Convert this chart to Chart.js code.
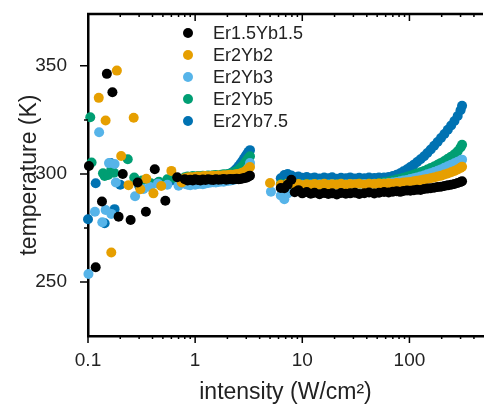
<!DOCTYPE html>
<html>
<head>
<meta charset="utf-8">
<script src="https://cdn.jsdelivr.net/npm/chart.js@4"></script>
<style>
  body { margin: 0; background: #fff; }
  #wrap { position: relative; width: 488px; height: 412px; }
  #legend { position: absolute; left: 183px; top: 22px; font: 18px "Liberation Sans", Arial, sans-serif; color: #222; }
  .row { display: flex; align-items: center; height: 22px; }
  .dot { width: 10px; height: 10px; border-radius: 50%; margin-right: 20px; }
</style>
</head>
<body>
<div id="wrap">
  <canvas id="grafico" width="488" height="412"></canvas>
  <div id="legend"></div>
</div>
<script>
// series names and colours
const nomes = ['Er1.5Yb1.5', 'Er2Yb2', 'Er2Yb3', 'Er2Yb5', 'Er2Yb7.5'];
const cores = ['#000000', '#E69F00', '#56B4E9', '#009E73', '#0072B2'];

// axis ticks
const xTickLabels = [0.1, 1, 10, 100];
const yTickLabels = [250, 300, 350];
const yMinorTicks = [275, 325];

// intensities (W/cm2) of the two dense sweeps
const intensidade1 = [0.8, 0.85, 0.9, 0.95, 1.0, 1.06, 1.12, 1.18, 1.25, 1.32, 1.4, 1.48, 1.56, 1.65, 1.75,
  1.85, 1.95, 2.05, 2.15, 2.25, 2.35, 2.45, 2.55, 2.65, 2.75, 2.85, 2.95, 3.05, 3.15, 3.25];
const intensidade2 = [6.3, 6.8, 7.3, 7.9, 8.5, 9.2, 10, 11, 12, 13, 14.5, 16, 17.5, 19, 21, 23, 25.5, 28, 31,
  34, 38, 42, 47, 52, 58, 64, 70, 76, 82, 88, 95, 102, 110, 118, 127, 137, 147, 158, 170, 183, 197, 212,
  228, 245, 263, 282, 300, 310];

// Er1.5Yb1.5
const er15Dispersos = [0.102, 0.118, 0.135, 0.150, 0.169, 0.193, 0.211, 0.25, 0.291, 0.347, 0.42, 0.527, 0.68];
const er15DispersosT = [303.7, 256.8, 287.2, 346.3, 337.8, 280.2, 300, 278.7, 296, 282.5, 302.2, 287.6, 298.5];
const er15Faixa1 = [297.5, 297, 297.3, 297, 297.5, 297.2, 297, 297.4, 297.2, 297.5, 297.3, 297.2, 297.5, 297.3,
  297.4, 297.6, 297.3, 297.5, 297.6, 297.4, 297.6, 297.8, 297.5, 297.7, 297.9, 298, 298.2, 298.4, 298.8, 299.2];
const er15Faixa2 = [293.5, 293.4, 295, 297.3, 291.5, 292.5, 291, 291.6, 290.8, 291.3, 290.6, 291.2, 290.7, 291,
  290.5, 291.2, 290.8, 291, 291.3, 290.7, 291.1, 291.4, 290.9, 291.3, 291.6, 291.4, 291.8, 292, 291.7, 292.1,
  292.3, 292.2, 292.5, 292.7, 292.6, 293, 293.2, 293.4, 293.6, 293.9, 294.1, 294.4, 294.7, 295, 295.3, 295.8,
  296.3, 296.6];

// Er2Yb2
const er2Dispersos = [0.126, 0.146, 0.165, 0.186, 0.204, 0.239, 0.267, 0.308, 0.35, 0.408, 0.483, 0.6, 0.75, 5.0];
const er2DispersosT = [335.2, 324.7, 263.6, 347.8, 308.3, 294.8, 326, 292.9, 297.8, 291, 294.4, 301.4, 296, 295.8];
const er2Faixa1 = [298, 298.3, 298.5, 298.3, 298.6, 298.8, 298.5, 298.9, 299, 298.8, 299, 299.2, 299, 299.3,
  299.2, 299.4, 299.3, 299.5, 299.6, 299.4, 299.7, 299.9, 300, 300.2, 300.5, 300.8, 301.2, 301.8, 302.5, 303.2];
const er2Faixa2 = [295, 294, 295.5, 296, 295, 295.3, 294.8, 295.2, 294.9, 295.3, 295, 295.4, 294.9, 295.2,
  295.1, 295.4, 295, 295.3, 295.2, 295.5, 295.1, 295.4, 295.3, 295.6, 295.4, 295.7, 295.5, 295.8, 295.7, 296,
  296.2, 296.3, 296.6, 296.8, 297.1, 297.4, 297.7, 298, 298.4, 298.8, 299.2, 299.7, 300.2, 300.8, 301.4, 302.1,
  302.8, 303.3];

// Er2Yb3
const er3Dispersos = [0.101, 0.116, 0.127, 0.136, 0.146, 0.157, 0.165, 0.177, 0.182, 0.275, 0.33, 0.38, 0.45, 0.55, 0.7, 5.1];
const er3DispersosT = [253.7, 282.5, 319.3, 277.6, 283.3, 305, 281.5, 304.6, 296, 289.7, 293, 294, 295.5, 295, 294.5, 291.8];
const er3Faixa1 = [295.5, 295, 294.8, 295.2, 295, 295.3, 295.5, 295.2, 295.6, 295.8, 296, 296.2, 296, 296.3,
  296.5, 296.4, 296.7, 296.8, 297, 297.2, 297.4, 297.8, 298.2, 298.6, 299.2, 299.8, 300.6, 301.5, 303, 305];
const er3Faixa2 = [290, 288.3, 291, 293, 294.5, 294.8, 295, 294.9, 295.1, 295, 295.2, 295, 295.1, 295.2,
  295, 295.2, 295.1, 295.3, 295.2, 295.1, 295.3, 295.2, 295.4, 295.3, 295.6, 295.8, 296, 296.3, 296.6, 296.9,
  297.2, 297.6, 298, 298.4, 298.8, 299.3, 299.8, 300.3, 300.9, 301.5, 302.1, 302.8, 303.5, 304.2, 304.9, 305.6,
  306.2, 306.6];

// Er2Yb5
const er5Dispersos = [0.105, 0.108, 0.138, 0.143, 0.154, 0.165, 0.175, 0.235, 0.27, 0.32, 0.386, 0.46, 0.55, 0.65];
const er5DispersosT = [326.2, 305.3, 300.3, 299, 299.5, 302, 300.5, 306.8, 298.3, 297, 295.7, 296.4, 297.5, 298];
const er5Faixa1 = [298.5, 298.8, 298.6, 299, 298.7, 299, 298.8, 299.2, 299, 299.3, 299.1, 299.4, 299.5, 299.3,
  299.6, 299.8, 299.7, 300, 300.2, 300.5, 300.9, 301.4, 302, 302.7, 303.5, 304.4, 305.4, 306.4, 307.4, 308.2];
const er5Faixa2 = [295.3, 295, 295.7, 296, 295.2, 295.4, 295, 295.4, 295.1, 295.4, 295.1, 295.5, 295.1, 295.3,
  295.2, 295.5, 295.1, 295.4, 295.3, 295.6, 295.3, 295.6, 295.5, 295.8, 296.2, 296.5, 297, 297.4, 297.8, 298.2,
  298.7, 299.2, 299.7, 300.2, 300.8, 301.4, 302, 302.7, 303.4, 304.2, 305.1, 306, 307, 308, 309.1, 310.5,
  312.2, 313.5];

// Er2Yb7.5
const er75Dispersos = [0.1, 0.118, 0.143, 0.163, 0.177, 0.2, 0.3, 0.45, 0.6, 0.7];
const er75DispersosT = [279, 295.7, 277.2, 305, 283.7, 295, 294.5, 296, 297, 297.5];
const er75Faixa1 = [298, 297.8, 298.2, 298, 298.3, 298.1, 298.4, 298.2, 298.5, 298.3, 298.6, 298.5, 298.8, 298.7,
  299, 299.2, 299.5, 299.8, 300.3, 300.9, 301.7, 302.6, 303.6, 304.7, 305.8, 307, 308.2, 309.2, 310.2, 311];
const er75Faixa2 = [298, 299.5, 300, 299.3, 298.5, 298.8, 298.2, 298.6, 298, 298.4, 297.9, 298.3, 298, 298.5,
  297.8, 298.2, 298, 298.4, 297.9, 298.2, 298, 298.3, 298.1, 298.4, 298.3, 298.6, 299, 299.6, 300.3, 301.2,
  302.2, 303.2, 304.3, 305.5, 306.8, 308.2, 309.7, 311.3, 313, 314.8, 316.6, 318.5, 320.4, 322.4, 324.5, 326.8,
  329.5, 331.5];

function montaPontos(dispersos, dispersosT, faixa1, faixa2) {
  const pontos = dispersos.map((x, i) => ({ x: x, y: dispersosT[i] }));
  intensidade1.forEach((x, i) => pontos.push({ x: x, y: faixa1[i] }));
  intensidade2.forEach((x, i) => pontos.push({ x: x, y: faixa2[i] }));
  return pontos;
}

const series = [
  montaPontos(er15Dispersos, er15DispersosT, er15Faixa1, er15Faixa2),
  montaPontos(er2Dispersos, er2DispersosT, er2Faixa1, er2Faixa2),
  montaPontos(er3Dispersos, er3DispersosT, er3Faixa1, er3Faixa2),
  montaPontos(er5Dispersos, er5DispersosT, er5Faixa1, er5Faixa2),
  montaPontos(er75Dispersos, er75DispersosT, er75Faixa1, er75Faixa2)
];

const fonte = '"Liberation Sans", Arial, sans-serif';

// frame on top plus tick marks (major / minor)
const marcas = {
  id: 'marcas',
  afterDraw(chart) {
    const { ctx, chartArea: a, scales: { x, y } } = chart;
    ctx.save();
    ctx.strokeStyle = '#000';
    ctx.lineWidth = 2.5;
    ctx.beginPath();
    ctx.moveTo(a.left - 1, a.top);
    ctx.lineTo(a.right, a.top);
    ctx.stroke();
    ctx.lineWidth = 1.5;
    ctx.beginPath();
    for (let e = -1; e <= 2; e++) {
      for (let n = 1; n <= 9; n++) {
        const v = n * Math.pow(10, e);
        const px = x.getPixelForValue(v);
        if (px > a.right) continue;
        const len = n === 1 ? 7 : 3;
        ctx.moveTo(px, a.bottom); ctx.lineTo(px, a.bottom + len);
        ctx.moveTo(px, a.top); ctx.lineTo(px, a.top + len);
      }
    }
    yTickLabels.forEach(v => {
      const py = y.getPixelForValue(v);
      ctx.moveTo(a.left, py); ctx.lineTo(a.left - 8, py);
    });
    yMinorTicks.forEach(v => {
      const py = y.getPixelForValue(v);
      ctx.moveTo(a.left, py); ctx.lineTo(a.left - 4, py);
    });
    ctx.stroke();
    ctx.restore();
  }
};

const grafico = new Chart(document.getElementById('grafico'), {
  type: 'scatter',
  data: {
    datasets: nomes.map((nome, i) => ({
      label: nome,
      data: series[i],
      backgroundColor: cores[i],
      borderColor: cores[i],
      pointRadius: 5,
      pointBorderWidth: 0,
      clip: false
    }))
  },
  options: {
    responsive: false,
    animation: false,
    layout: { padding: { top: 14, left: 0, right: 0, bottom: 0 } },
    plugins: { legend: { display: false }, tooltip: { enabled: false } },
    scales: {
      x: {
        type: 'logarithmic',
        min: 0.1,
        max: 486,
        grid: { display: false },
        border: { display: true, color: '#000', width: 2.5 },
        ticks: {
          autoSkip: false,
          maxRotation: 0,
          padding: 5,
          color: '#222',
          font: { family: fonte, size: 19 },
          callback: v => {
            const l = xTickLabels.find(t => Math.abs(t - v) < t * 1e-6);
            return l === undefined ? '' : String(l);
          }
        },
        title: {
          display: true,
          text: 'intensity (W/cm²)',
          color: '#222',
          font: { family: fonte, size: 23 },
          padding: 6
        },
        afterFit: s => { s.height = 76; s.paddingLeft = 0; s.paddingRight = 0; }
      },
      y: {
        min: 225,
        max: 374,
        grid: { display: false },
        border: { display: true, color: '#000', width: 2.5 },
        ticks: {
          stepSize: 25,
          padding: 13,
          color: '#222',
          font: { family: fonte, size: 19 },
          callback: v => yTickLabels.includes(v) ? String(v) : ''
        },
        title: {
          display: true,
          text: 'temperature (K)',
          color: '#222',
          font: { family: fonte, size: 23 },
          padding: 16
        },
        afterFit: s => { s.width = 88; s.paddingTop = 0; s.paddingBottom = 0; }
      }
    }
  },
  plugins: [marcas]
});

// legend
const legenda = document.getElementById('legend');
nomes.forEach((nome, i) => {
  const linha = document.createElement('div');
  linha.className = 'row';
  const ponto = document.createElement('span');
  ponto.className = 'dot';
  ponto.style.background = cores[i];
  const texto = document.createElement('span');
  texto.textContent = nome;
  linha.appendChild(ponto);
  linha.appendChild(texto);
  legenda.appendChild(linha);
});
</script>
</body>
</html>
